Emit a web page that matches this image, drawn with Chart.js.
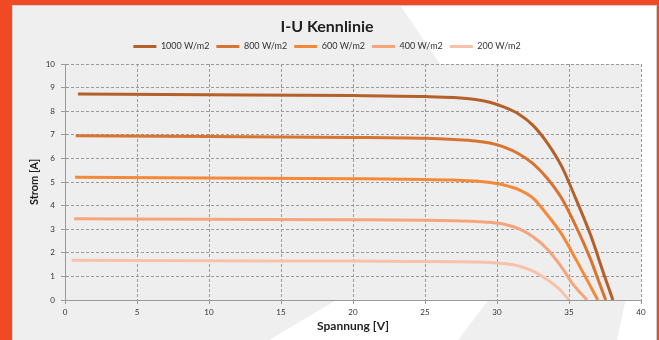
<!DOCTYPE html>
<html lang='de'>
<head>
  <meta charset='UTF-8'>
  <title>I-U Kennlinie</title>
  <script src="https://cdn.jsdelivr.net/npm/chart.js@4.4.1/dist/chart.umd.min.js"></script>
  <style>
    html, body { margin:0; padding:0; background:#ef4a23; }
    #wrap { width:659px; height:340px; }
  </style>
</head>
<body>
  <div id="wrap"><canvas id="myChart" width="659" height="340"></canvas></div>
<script>
  // Spannung [V] / Strom [A] je Einstrahlung
  var seriesNames = ['1000 W/m2', '800 W/m2', '600 W/m2', '400 W/m2', '200 W/m2'];
  var u1000 = [0.9, 10, 20, 25, 27, 28.5, 29.5, 30.5, 31.5, 32.5, 33.5, 34.5, 35.5, 36.5, 37.5, 38.05];
  var i1000 = [8.73, 8.70, 8.66, 8.62, 8.58, 8.50, 8.38, 8.17, 7.88, 7.40, 6.65, 5.65, 4.25, 2.75, 0.95, 0];
  var u800 = [0.75, 10, 20, 25, 27, 28.5, 29.5, 30.5, 31.5, 32.5, 33.5, 34.5, 35.5, 36.5, 37.0, 37.55];
  var i800 = [6.96, 6.93, 6.89, 6.85, 6.80, 6.74, 6.65, 6.48, 6.2, 5.78, 5.15, 4.3, 3.1, 1.72, 0.9, 0];
  var u600 = [0.7, 10, 20, 25, 27, 28.5, 29.5, 30.5, 31.5, 32.5, 33.5, 34.5, 35.5, 36.3, 37.0];
  var i600 = [5.2, 5.17, 5.14, 5.11, 5.08, 5.04, 4.98, 4.87, 4.68, 4.32, 3.6, 2.78, 1.7, 0.8, 0];
  var u400 = [0.63, 10, 20, 25, 27, 28.5, 29.5, 30.5, 31.5, 32.5, 33.5, 34.5, 35.3, 36.25];
  var i400 = [3.44, 3.42, 3.4, 3.38, 3.36, 3.33, 3.29, 3.21, 3.02, 2.68, 2.15, 1.38, 0.65, 0];
  var u200 = [0.46, 10, 20, 25, 27, 28.5, 29.5, 30.5, 31.5, 32.5, 33.5, 34.3, 35.0];
  var i200 = [1.68, 1.66, 1.65, 1.63, 1.62, 1.61, 1.59, 1.54, 1.44, 1.22, 0.86, 0.48, 0];
  var xTicks = [0, 5, 10, 15, 20, 25, 30, 35, 40];
  var yTicks = [0, 1, 2, 3, 4, 5, 6, 7, 8, 9, 10];

  var colors = ['#b4602a', '#d8742f', '#f5893a', '#f6a47c', '#f8c2aa'];
  var uAll = [u1000, u800, u600, u400, u200];
  var iAll = [i1000, i800, i600, i400, i200];

  function toPoints(u, i){
    var pts = [];
    for (var k = 0; k < u.length; k++) pts.push({x: u[k], y: i[k]});
    return pts;
  }

  var datasets = seriesNames.map(function(name, n){
    return {
      label: name,
      data: toPoints(uAll[n], iAll[n]),
      borderColor: colors[n],
      backgroundColor: colors[n],
      borderWidth: 3,
      pointRadius: 0,
      cubicInterpolationMode: 'monotone',
      fill: false
    };
  });

  // Hintergrund: oranger Rahmen, graues Feld, weisse Schraegen
  var bgPlugin = {
    id: 'bg',
    beforeDraw: function(chart){
      var c = chart.ctx, a = chart.chartArea;
      c.save();
      c.fillStyle = '#ef4a23';
      c.fillRect(0, 0, 659, 340);
      c.fillStyle = '#efefef';
      c.fillRect(13, 5, 643, 335);
      c.fillStyle = '#ffffff';
      c.beginPath();
      c.moveTo(400, 5); c.lineTo(656, 5); c.lineTo(656, 340);
      c.lineTo(617, 340); c.lineTo(630, 280); c.lineTo(440, 64);
      c.closePath(); c.fill();
      c.beginPath();
      c.moveTo(269, 340); c.lineTo(340, 298); c.lineTo(490, 298); c.lineTo(458, 340);
      c.closePath(); c.fill();
      c.strokeStyle = '#cfcfcf';
      c.lineWidth = 1;
      c.strokeRect(12.5, 5.5, 644, 340);
      c.fillStyle = '#eeeeee';
      c.fillRect(a.left, a.top, a.right - a.left, a.bottom - a.top);
      c.restore();
    }
  };

  var gridOpts = { color: '#9a9a9a', tickBorderDash: [], tickLength: 4, tickColor: '#999' };
  var borderOpts = { display: true, color: '#999', dash: [3, 2] };

  var ctx = document.getElementById('myChart').getContext('2d');
  var myChart = new Chart(ctx, {
    type: 'line',
    data: { datasets: datasets },
    plugins: [bgPlugin],
    options: {
      responsive: false,
      animation: false,
      events: [],
      layout: { padding: { left: 13, right: 18, top: 0, bottom: 0 } },
      plugins: {
        title: {
          display: true,
          text: 'I-U Kennlinie',
          color: '#222',
          font: { family: 'Lato', size: 16, weight: 'bold', lineHeight: 1 },
          padding: { top: 19, bottom: 0 }
        },
        // nur Abstand zwischen Legende und Diagramm
        subtitle: {
          display: true,
          text: ' ',
          weight: 500,
          font: { size: 1, lineHeight: 1 },
          padding: { top: 2, bottom: 0 }
        },
        legend: {
          display: true,
          position: 'top',
          labels: {
            color: '#333',
            font: { family: 'Lato', size: 9 },
            boxWidth: 23,
            boxHeight: 3,
            padding: 7,
            generateLabels: function(chart){
              var items = Chart.defaults.plugins.legend.labels.generateLabels(chart);
              items.forEach(function(it){ it.lineWidth = 0; });
              return items;
            }
          }
        },
        tooltip: { enabled: false }
      },
      scales: {
        x: {
          type: 'linear',
          min: 0, max: 40,
          afterBuildTicks: function(s){ s.ticks = xTicks.map(function(v){ return {value: v}; }); },
          afterFit: function(s){ s.height = 40; },
          ticks: { color: '#333', font: { family: 'Lato', size: 8 }, padding: 4, maxRotation: 0 },
          grid: gridOpts,
          border: borderOpts,
          title: { display: true, text: 'Spannung [V]', color: '#222', font: { family: 'Lato', size: 12, weight: 'bold' }, padding: 7 }
        },
        y: {
          type: 'linear',
          min: 0, max: 10,
          afterBuildTicks: function(s){ s.ticks = yTicks.map(function(v){ return {value: v}; }); },
          afterFit: function(s){ s.width = 52; },
          ticks: { color: '#333', font: { family: 'Lato', size: 8 }, padding: 6 },
          grid: gridOpts,
          border: borderOpts,
          title: { display: true, text: 'Strom [A]', color: '#222', font: { family: 'Lato', size: 11, weight: 'bold' }, padding: 15 }
        }
      }
    }
  });
</script>
</body>
</html>
